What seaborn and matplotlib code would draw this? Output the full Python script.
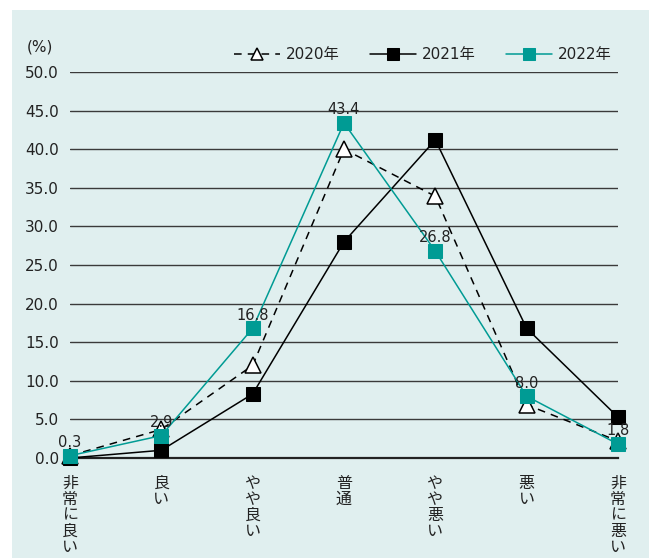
import matplotlib
matplotlib.use("Agg")
import matplotlib.pyplot as plt
import matplotlib.patches as mpatches
import seaborn as sns
import pandas as pd

categories = ["非常に良い", "良い", "やや良い", "普通", "やや悪い", "悪い", "非常に悪い"]
y2020 = [0.3, 3.7, 12.0, 40.0, 33.9, 6.9, 2.2]
y2021 = [0.0, 1.0, 8.3, 28.0, 41.2, 16.8, 5.3]
y2022 = [0.3, 2.9, 16.8, 43.4, 26.8, 8.0, 1.8]
labels2022 = ["0.3", "2.9", "16.8", "43.4", "26.8", "8.0", "1.8"]

sns.set_style("white")
plt.rcParams["font.family"] = ["DejaVu Sans", "Noto Sans CJK JP"]

bg = "#e0efef"
teal = "#009b94"
txt = "#222222"

fig = plt.figure(figsize=(6.49, 5.58), dpi=100)
fig.patch.set_facecolor("white")
fig.patches.append(mpatches.Rectangle((12 / 649, 0), 1, 1 - 10 / 558,
                                      transform=fig.transFigure, facecolor=bg,
                                      edgecolor="none", zorder=-10))
ax = fig.add_axes([70 / 649, 1 - 458 / 558, 548 / 649, 386 / 558])
ax.set_facecolor(bg)

df = pd.DataFrame({"x": range(len(categories)), "y2020": y2020,
                   "y2021": y2021, "y2022": y2022})

sns.lineplot(data=df, x="x", y="y2020", ax=ax, color="black", lw=1.1,
             linestyle=(0, (5, 4)), marker="^", markersize=11,
             markerfacecolor="white", markeredgecolor="black",
             markeredgewidth=1.1, label="2020年", clip_on=False, zorder=3)
sns.lineplot(data=df, x="x", y="y2021", ax=ax, color="black", lw=1.1,
             marker="s", markersize=10, markerfacecolor="black",
             markeredgecolor="black", label="2021年", clip_on=False, zorder=4)
sns.lineplot(data=df, x="x", y="y2022", ax=ax, color=teal, lw=1.1,
             marker="s", markersize=10, markerfacecolor=teal,
             markeredgecolor=teal, label="2022年", clip_on=False, zorder=5)

for i, (v, s) in enumerate(zip(y2022, labels2022)):
    ax.annotate(s, (i, v), xytext=(0, 9.5), textcoords="offset points",
                ha="center", va="center", fontsize=10.5, color=txt, zorder=6)

ax.set_xlim(0, 6)
ax.set_ylim(0, 50)
ax.set_yticks([i * 5 for i in range(11)])
ax.set_yticklabels([f"{i * 5:.1f}" for i in range(11)], fontsize=11,
                   color=txt)
ax.yaxis.grid(True, color="#3a3a3a", lw=1.0)
ax.set_axisbelow(True)
ax.tick_params(axis="y", length=0, pad=8)

ax.set_xticks(range(len(categories)))
ax.set_xticklabels(["\n".join(c) for c in categories], fontsize=11.5,
                   color=txt, va="top", linespacing=0.92,
                   family=["Noto Sans CJK JP"])
ax.tick_params(axis="x", direction="in", length=15, width=1.0,
               color="#333333", pad=12)

for side in ["left", "right", "top"]:
    ax.spines[side].set_visible(False)
ax.spines["bottom"].set_color("#222222")
ax.spines["bottom"].set_linewidth(1.6)

ax.set_xlabel("")
ax.set_ylabel("")
fig.text(27 / 649, 1 - 47 / 558, "(%)", fontsize=11, color=txt,
         va="center", ha="left")

leg = ax.legend(loc="lower right", bbox_to_anchor=(1.0, 1.01), ncol=3,
                frameon=False, fontsize=11, handlelength=3.0,
                columnspacing=2.0, handletextpad=0.4, borderaxespad=0,
                markerscale=0.85)
for t in leg.get_texts():
    t.set_color(txt)

fig.savefig("out.png", dpi=100, facecolor=fig.get_facecolor())
